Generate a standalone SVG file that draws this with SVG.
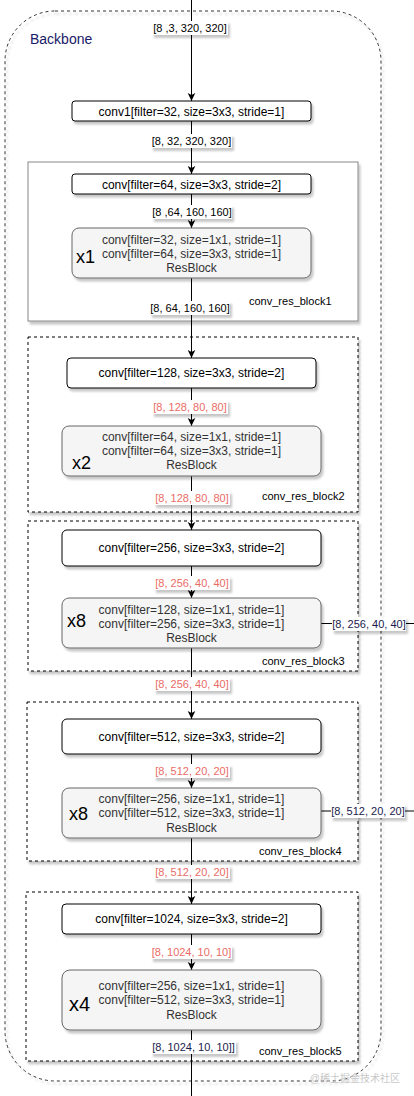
<svg xmlns="http://www.w3.org/2000/svg" width="414" height="1096" viewBox="0 0 414 1096">
<defs>
<filter id="sh" x="-10%" y="-10%" width="130%" height="140%">
<feDropShadow dx="2" dy="3" stdDeviation="1.2" flood-color="#000" flood-opacity="0.22"/>
</filter>
<marker id="arr" markerUnits="userSpaceOnUse" markerWidth="10" markerHeight="10" viewBox="0 0 10 10" refX="9" refY="5" orient="auto">
<path d="M1,1.2 L9,5 L1,8.8 L3,5 Z" fill="#000"/>
</marker>
</defs>
<style>
text{font-family:"Liberation Sans",Arial,sans-serif;}
.box{fill:#fff;stroke:#000;stroke-width:1;filter:url(#sh);}
.res{fill:#f5f5f5;stroke:#666;stroke-width:1;filter:url(#sh);}
.cont{fill:none;stroke:#000;stroke-width:1;stroke-dasharray:3 3;}
.t12{font-size:12px;fill:#000;text-anchor:middle;}
.r12{font-size:12px;fill:#333;text-anchor:middle;}
.lbl{font-size:11px;fill:#000;text-anchor:middle;}
.red{font-size:11px;fill:#EA6B66;text-anchor:middle;}
.navy{font-size:11px;fill:#1a1a4d;text-anchor:middle;}
.lbg{fill:#fff;filter:url(#sh);}
.rep{font-size:18px;fill:#000;}
.bn{font-size:11px;fill:#000;}
.edge{fill:none;stroke:#000;stroke-width:1;}
</style>

<g id="backbone">
<rect x="5" y="11" width="376" height="1070" rx="50" ry="50" fill="none" stroke="#333" stroke-width="1" stroke-dasharray="3 3" filter="url(#sh)"/>
<text x="30" y="44" font-size="14" fill="#1a1a66">Backbone</text>
</g>

<g id="containers">
<rect id="conv_res_block1" x="28" y="162" width="330" height="159" fill="#fff" stroke="#888" stroke-width="1" filter="url(#sh)"/>
<rect x="28" y="337" width="330" height="175" class="cont" fill="#fff" style="fill:#fff" filter="url(#sh)"/>
<rect x="28" y="521" width="330" height="150" class="cont" style="fill:#fff" filter="url(#sh)"/>
<rect x="27" y="702" width="331" height="159" class="cont" style="fill:#fff" filter="url(#sh)"/>
<rect x="26" y="892" width="332" height="169" class="cont" style="fill:#fff" filter="url(#sh)"/>
<text class="bn" x="249" y="305">conv_res_block1</text>
<text class="bn" x="262" y="500">conv_res_block2</text>
<text class="bn" x="262" y="665">conv_res_block3</text>
<text class="bn" x="259" y="855">conv_res_block4</text>
<text class="bn" x="259" y="1055">conv_res_block5</text>
</g>

<g id="connectors">
<line class="edge" x1="191.5" y1="0" x2="191.5" y2="101" marker-end="url(#arr)"/>
<line class="edge" x1="191.5" y1="121" x2="191.5" y2="174" marker-end="url(#arr)"/>
<line class="edge" x1="191.5" y1="194" x2="191.5" y2="228" marker-end="url(#arr)"/>
<line class="edge" x1="191.5" y1="278" x2="191.5" y2="358" marker-end="url(#arr)"/>
<line class="edge" x1="191.5" y1="388" x2="191.5" y2="426" marker-end="url(#arr)"/>
<line class="edge" x1="191.5" y1="476" x2="191.5" y2="530" marker-end="url(#arr)"/>
<line class="edge" x1="191.5" y1="566" x2="191.5" y2="598" marker-end="url(#arr)"/>
<line class="edge" x1="191.5" y1="648" x2="191.5" y2="719" marker-end="url(#arr)"/>
<line class="edge" x1="191.5" y1="754" x2="191.5" y2="788" marker-end="url(#arr)"/>
<line class="edge" x1="191.5" y1="838" x2="191.5" y2="904" marker-end="url(#arr)"/>
<line class="edge" x1="191.5" y1="934" x2="191.5" y2="970" marker-end="url(#arr)"/>
<line class="edge" x1="191.5" y1="1030" x2="191.5" y2="1096"/>
<line class="edge" x1="321" y1="623.5" x2="414" y2="623.5"/>
<line class="edge" x1="321" y1="811" x2="414" y2="811"/>

<rect class="lbg" x="152" y="21" width="76" height="14"/>
<text class="lbl" x="190" y="32">[8 ,3, 320, 320]</text>
<rect class="lbg" x="151" y="134" width="81" height="14"/>
<text class="lbl" x="191.5" y="145">[8, 32, 320, 320]</text>
<rect class="lbg" x="152" y="205" width="80" height="14"/>
<text class="lbl" x="192" y="216">[8 ,64, 160, 160]</text>
<rect class="lbg" x="150" y="301" width="80" height="14"/>
<text class="lbl" x="190" y="312">[8, 64, 160, 160]</text>

<rect class="lbg" x="152" y="400" width="76" height="14"/>
<text class="red" x="190" y="411">[8, 128, 80, 80]</text>
<rect class="lbg" x="154" y="491" width="76" height="14"/>
<text class="red" x="192" y="502">[8, 128, 80, 80]</text>

<rect class="lbg" x="154" y="576" width="76" height="14"/>
<text class="red" x="192" y="587">[8, 256, 40, 40]</text>
<rect class="lbg" x="332" y="617" width="74" height="14"/>
<text class="navy" x="369" y="627.5">[8, 256, 40, 40]</text>
<rect class="lbg" x="154" y="677" width="76" height="14"/>
<text class="red" x="192" y="688">[8, 256, 40, 40]</text>

<rect class="lbg" x="154" y="764" width="76" height="14"/>
<text class="red" x="192" y="775">[8, 512, 20, 20]</text>
<rect class="lbg" x="331" y="804" width="74" height="14"/>
<text class="navy" x="368" y="815">[8, 512, 20, 20]</text>
<rect class="lbg" x="154" y="865" width="76" height="14"/>
<text class="red" x="192" y="876">[8, 512, 20, 20]</text>

<rect class="lbg" x="151" y="945" width="81" height="14"/>
<text class="red" x="191.5" y="956">[8, 1024, 10, 10]</text>
<rect class="lbg" x="151" y="1040" width="85" height="14"/>
<text class="navy" x="193.5" y="1051">[8, 1024, 10, 10]]</text>
</g>

<g id="conv1">
<rect class="box" x="72" y="101" width="239" height="20" rx="3"/>
<text class="t12" x="191.5" y="115.5">conv1[filter=32, size=3x3, stride=1]</text>
</g>

<g id="b1_conv">
<rect class="box" x="72" y="174" width="239" height="20" rx="3"/>
<text class="t12" x="191.5" y="188.5">conv[filter=64, size=3x3, stride=2]</text>
</g>
<g id="b1_res">
<rect class="res" x="72" y="228" width="239" height="50" rx="7"/>
<text class="r12" x="191.5" y="243.5">conv[filter=32, size=1x1, stride=1]</text>
<text class="r12" x="191.5" y="257.5">conv[filter=64, size=3x3, stride=1]</text>
<text class="r12" x="191.5" y="272">ResBlock</text>
<text class="rep" x="76" y="263">x1</text>
</g>

<g id="b2_conv">
<rect class="box" x="67" y="358" width="249" height="30" rx="4"/>
<text class="t12" x="191.5" y="377">conv[filter=128, size=3x3, stride=2]</text>
</g>
<g id="b2_res">
<rect class="res" x="62" y="426" width="259" height="50" rx="7"/>
<text class="r12" x="191.5" y="440.5">conv[filter=64, size=1x1, stride=1]</text>
<text class="r12" x="191.5" y="454.5">conv[filter=64, size=3x3, stride=1]</text>
<text class="r12" x="191.5" y="469">ResBlock</text>
<text class="rep" x="72" y="469">x2</text>
</g>

<g id="b3_conv">
<rect class="box" x="62" y="530" width="259" height="36" rx="5"/>
<text class="t12" x="191.5" y="552">conv[filter=256, size=3x3, stride=2]</text>
</g>
<g id="b3_res">
<rect class="res" x="62" y="598" width="259" height="50" rx="7"/>
<text class="r12" x="191.5" y="613.5">conv[filter=128, size=1x1, stride=1]</text>
<text class="r12" x="191.5" y="627.5">conv[filter=256, size=3x3, stride=1]</text>
<text class="r12" x="191.5" y="642">ResBlock</text>
<text class="rep" x="67" y="627">x8</text>
</g>

<g id="b4_conv">
<rect class="box" x="62" y="719" width="259" height="35" rx="5"/>
<text class="t12" x="191.5" y="741">conv[filter=512, size=3x3, stride=2]</text>
</g>
<g id="b4_res">
<rect class="res" x="62" y="788" width="259" height="50" rx="7"/>
<text class="r12" x="191.5" y="803">conv[filter=256, size=1x1, stride=1]</text>
<text class="r12" x="191.5" y="817">conv[filter=512, size=3x3, stride=1]</text>
<text class="r12" x="191.5" y="831.5">ResBlock</text>
<text class="rep" x="69" y="820">x8</text>
</g>

<g id="b5_conv">
<rect class="box" x="62" y="904" width="259" height="30" rx="4"/>
<text class="t12" x="191.5" y="923">conv[filter=1024, size=3x3, stride=2]</text>
</g>
<g id="b5_res">
<rect class="res" x="62" y="970" width="259" height="60" rx="8"/>
<text class="r12" x="191.5" y="990">conv[filter=256, size=1x1, stride=1]</text>
<text class="r12" x="191.5" y="1004">conv[filter=512, size=3x3, stride=1]</text>
<text class="r12" x="191.5" y="1018.5">ResBlock</text>
<text class="rep" x="69" y="1010.5" style="font-size:20px">x4</text>
</g>

<text x="400" y="1082" font-size="10" fill="#c8c8c8" text-anchor="end" style="font-family:'Liberation Sans','Noto Sans CJK SC',sans-serif">@稀土掘金技术社区</text>
</svg>
